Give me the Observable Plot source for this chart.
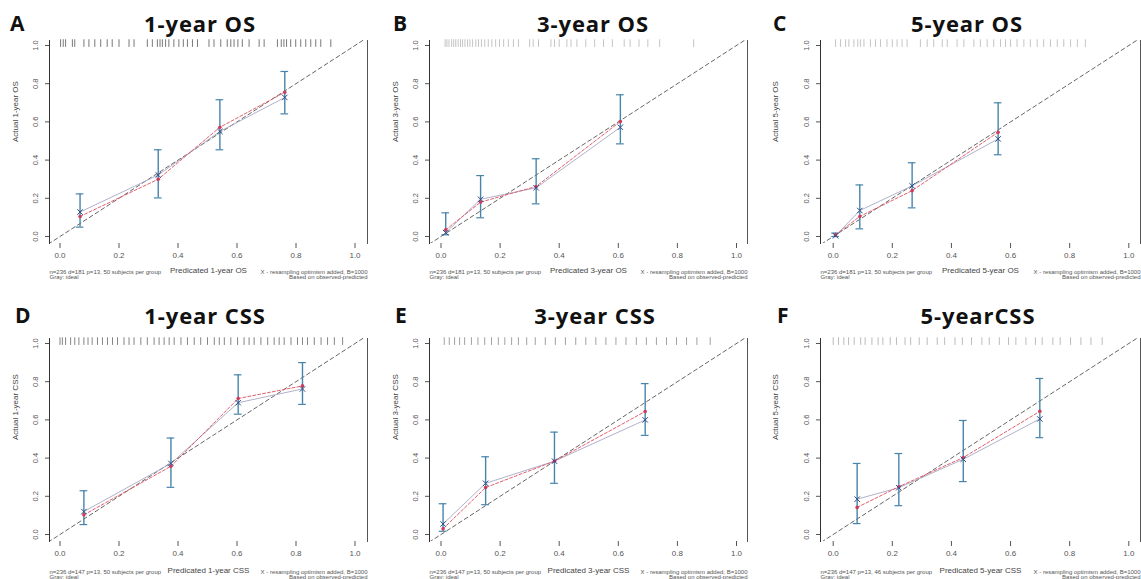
<!DOCTYPE html>
<html><head><meta charset="utf-8">
<script src="https://cdn.jsdelivr.net/npm/d3@7"></script>
<script src="https://cdn.jsdelivr.net/npm/@observablehq/plot@0.6"></script>
<style>
html,body{margin:0;padding:0;background:#fff}
body{width:1141px;height:579px;overflow:hidden;position:relative;font-family:"Open Sans","Noto Sans",sans-serif}
.panel{position:absolute;width:381px;height:290px}
.panel svg{position:absolute;left:0;top:0}
.letter{position:absolute;font-weight:700;font-size:21px;line-height:1;transform:translateY(-50%);color:#111}
.title{position:absolute;font-weight:700;font-size:22px;line-height:1;letter-spacing:0.9px;transform:translate(-50%,-50%);white-space:nowrap;color:#111}
</style></head><body>
<script>
// ---------- data ----------
const panelLetters = ["A", "B", "C", "D", "E", "F"];
const panelTitles = ["1-year OS", "3-year OS", "5-year OS", "1-year CSS", "3-year CSS", "5-yearCSS"];
const yLabels = ["Actual 1-year OS", "Actual 3-year OS", "Actual 5-year OS", "Actual 1-year CSS", "Actual 3-year CSS", "Actual 5-year CSS"];
const xLabels = ["Predicated 1-year OS", "Predicated 3-year OS", "Predicated 5-year OS", "Predicated 1-year CSS", "Predicated 3-year CSS", "Predicated 5-year CSS"];
const noteLeft = ["n=236 d=181 p=13, 50 subjects per group", "n=236 d=181 p=13, 50 subjects per group", "n=236 d=181 p=13, 50 subjects per group",
                  "n=236 d=147 p=13, 50 subjects per group", "n=236 d=147 p=13, 50 subjects per group", "n=236 d=147 p=13, 46 subjects per group"];
const noteLeft2 = "Gray: ideal";
const noteRight = "X - resampling optimism added, B=1000";
const noteRight2 = "Based on observed-predicted";
const tickValues = [0, 0.2, 0.4, 0.6, 0.8, 1.0];
const idealLine = [-0.1, 1.1];

// A: 1-year OS
const predA = [0.068, 0.333, 0.542, 0.762];
const observedA = [0.105, 0.300, 0.572, 0.755];
const correctedA = [0.128, 0.322, 0.550, 0.728];
const lowerA = [0.049, 0.202, 0.454, 0.642];
const upperA = [0.223, 0.454, 0.716, 0.864];
const rugA = [0.002,0.011,0.019,0.042,0.05,0.081,0.098,0.118,0.138,0.16,0.177,0.2,0.234,0.251,0.296,0.313,0.33,0.339,0.347,0.358,0.369,0.386,0.403,0.418,0.432,0.449,0.466,0.505,0.522,0.545,0.567,0.579,0.59,0.603,0.618,0.641,0.675,0.692,0.737,0.75,0.759,0.768,0.782,0.799,0.816,0.833,0.85,0.867,0.884,0.918];

// B: 3-year OS
const predB = [0.016, 0.134, 0.322, 0.607];
const observedB = [0.035, 0.180, 0.262, 0.602];
const correctedB = [0.020, 0.195, 0.255, 0.572];
const lowerB = [0.009, 0.098, 0.171, 0.485];
const upperB = [0.124, 0.319, 0.407, 0.742];
const rugB = [0.014,0.02,0.027,0.036,0.043,0.05,0.058,0.066,0.073,0.081,0.09,0.098,0.107,0.118,0.127,0.137,0.148,0.16,0.172,0.185,0.198,0.212,0.228,0.245,0.262,0.3,0.312,0.33,0.372,0.384,0.4,0.426,0.44,0.46,0.49,0.52,0.55,0.58,0.62,0.64,0.67,0.7,0.74,0.855];

// C: 5-year OS
const predC = [0.008, 0.090, 0.267, 0.558];
const observedC = [0.009, 0.105, 0.240, 0.546];
const correctedC = [0.004, 0.136, 0.265, 0.511];
const lowerC = [0.000, 0.040, 0.150, 0.428];
const upperC = [0.018, 0.270, 0.386, 0.700];
const rugC = [0.008,0.025,0.042,0.053,0.07,0.083,0.092,0.104,0.126,0.143,0.16,0.182,0.2,0.216,0.233,0.25,0.295,0.318,0.34,0.369,0.386,0.419,0.442,0.476,0.498,0.521,0.543,0.566,0.583,0.6,0.622,0.645,0.667,0.69,0.712,0.735,0.758,0.78,0.803,0.826,0.853];

// D: 1-year CSS
const predD = [0.081, 0.376, 0.604, 0.822];
const observedD = [0.103, 0.357, 0.712, 0.778];
const correctedD = [0.120, 0.372, 0.690, 0.762];
const lowerD = [0.052, 0.247, 0.630, 0.681];
const upperD = [0.229, 0.505, 0.836, 0.900];
const rugD = [0.0,0.008,0.019,0.036,0.05,0.064,0.081,0.095,0.109,0.127,0.144,0.161,0.178,0.195,0.217,0.234,0.251,0.274,0.296,0.319,0.336,0.353,0.37,0.387,0.41,0.432,0.455,0.477,0.5,0.523,0.54,0.557,0.579,0.602,0.624,0.641,0.658,0.681,0.704,0.726,0.743,0.76,0.783,0.805,0.822,0.839,0.862,0.885,0.907,0.93,0.958];

// E: 3-year CSS
const predE = [0.007, 0.151, 0.384, 0.691];
const observedE = [0.030, 0.246, 0.384, 0.644];
const correctedE = [0.055, 0.268, 0.384, 0.600];
const lowerE = [0.017, 0.156, 0.268, 0.519];
const upperE = [0.161, 0.407, 0.536, 0.790];
const rugE = [0.011,0.028,0.046,0.063,0.08,0.103,0.125,0.148,0.171,0.194,0.216,0.239,0.262,0.29,0.319,0.353,0.387,0.421,0.456,0.49,0.524,0.558,0.592,0.626,0.661,0.695,0.729,0.763,0.797,0.831,0.866,0.911];

// F: 5-year CSS
const predF = [0.081, 0.222, 0.440, 0.699];
const observedF = [0.142, 0.250, 0.403, 0.645];
const correctedF = [0.185, 0.245, 0.394, 0.605];
const lowerF = [0.057, 0.151, 0.277, 0.507];
const upperF = [0.372, 0.424, 0.597, 0.817];
const rugF = [0.0,0.018,0.036,0.052,0.071,0.093,0.108,0.131,0.152,0.168,0.193,0.214,0.243,0.262,0.291,0.318,0.352,0.377,0.412,0.437,0.468,0.503,0.528,0.562,0.593,0.618,0.652,0.684,0.707,0.743,0.768,0.803,0.838,0.872,0.91];

const series = [
  [predA, observedA, correctedA, lowerA, upperA, rugA],
  [predB, observedB, correctedB, lowerB, upperB, rugB],
  [predC, observedC, correctedC, lowerC, upperC, rugC],
  [predD, observedD, correctedD, lowerD, upperD, rugD],
  [predE, observedE, correctedE, lowerE, upperE, rugE],
  [predF, observedF, correctedF, lowerF, upperF, rugF]
];

// ---------- layout ----------
const colLeft = [0, 380, 760];
const rowTop = [0, 298];
const colGeo = [
  {frameL: 49, frameR: 367, x0: 59.5, x1: 354.5},
  {frameL: 49, frameR: 367, x0: 60.5, x1: 356},
  {frameL: 60, frameR: 380, x0: 72.7, x1: 368.3}
];
const titleX = [200, 213, 207, 205, 215, 218];
const letterX = [10, 13, 13, 15, 15, 17];
const rowTitleY = [23, 17];
const rowNoteDy = [30, 32];
const rugColors = ["#555", "#b5b5b5", "#b5b5b5", "#666", "#888", "#aaa"];
const barColor = "#4784aa";

series.forEach(([pred, obs, cor, lo, hi, rug], i) => {
  const col = i % 3, row = Math.floor(i / 3);
  const g = colGeo[col];
  const W = 381, H = 290, top = 40, bottom = 243;
  const nd = rowNoteDy[row];
  const pts = pred.map((x, k) => ({x, obs: obs[k], cor: cor[k], lo: lo[k], hi: hi[k]}));

  const div = document.createElement("div");
  div.className = "panel";
  div.style.left = colLeft[col] + "px";
  div.style.top = rowTop[row] + "px";

  const svg = Plot.plot({
    width: W, height: H,
    marginLeft: g.frameL, marginRight: W - g.frameR, marginTop: top, marginBottom: H - bottom,
    x: {domain: [0, 1], range: [g.x0, g.x1]},
    y: {domain: [0, 1], range: [236, 45]},
    style: {background: "transparent", fontFamily: "'Liberation Sans', Arial, sans-serif", overflow: "visible"},
    marks: [
      Plot.line(idealLine.map(v => [v, v]), {stroke: "#555", strokeWidth: 0.9, strokeDasharray: "4,3", clip: true}),
      Plot.frame({anchor: "left", stroke: "#333", strokeWidth: 1}),
      Plot.frame({anchor: "right", stroke: "#555", strokeWidth: 1}),
      Plot.ruleX(rug, {x: d => d, y1: 1.03, y2: 0.99, stroke: rugColors[i], strokeWidth: 0.8}),
      Plot.ruleX(pts, {x: "x", y1: "lo", y2: "hi", stroke: barColor, strokeWidth: 1.4}),
      Plot.ruleY(pts, {y: "lo", x1: d => d.x - 0.013, x2: d => d.x + 0.013, stroke: barColor, strokeWidth: 1.2}),
      Plot.ruleY(pts, {y: "hi", x1: d => d.x - 0.013, x2: d => d.x + 0.013, stroke: barColor, strokeWidth: 1.2}),
      Plot.line(pts, {x: "x", y: "cor", stroke: "#a7a9c4", strokeWidth: 0.9}),
      Plot.line(pts, {x: "x", y: "obs", stroke: "#e0606e", strokeWidth: 1, strokeDasharray: "3,2"}),
      Plot.dot(pts, {x: "x", y: "obs", r: 1.8, fill: "#cf3b5c"}),
      Plot.dot(pts, {x: "x", y: "cor", symbol: "times", r: 2.6, stroke: "#2d4b86", strokeWidth: 1}),
      Plot.axisX({ticks: tickValues, tickSize: 5, tickPadding: 4, fontSize: 8, color: "#555", label: null, tickFormat: d => d.toFixed(1)}),
      Plot.axisY({ticks: tickValues, tickSize: 4, tickRotate: -90, tickPadding: 8, fontSize: 7.5, color: "#555", label: null, tickFormat: d => d.toFixed(1)}),
      Plot.text([yLabels[i]], {frameAnchor: "left", dx: 15 - g.frameL, rotate: -90, fontSize: 8, fill: "#444"}),
      Plot.text([xLabels[i]], {frameAnchor: "bottom", dy: nd - 1, fontSize: 8, fill: "#444"}),
      Plot.text([noteLeft[i]], {frameAnchor: "bottom-left", textAnchor: "start", dy: nd, fontSize: 6, fill: "#555"}),
      Plot.text([noteLeft2], {frameAnchor: "bottom-left", textAnchor: "start", dy: nd + 5.5, fontSize: 6, fill: "#555"}),
      Plot.text([noteRight], {frameAnchor: "bottom-right", textAnchor: "end", dy: nd, fontSize: 6, fill: "#555"}),
      Plot.text([noteRight2], {frameAnchor: "bottom-right", textAnchor: "end", dy: nd + 5.5, fontSize: 6, fill: "#555"})
    ]
  });
  div.appendChild(svg);

  const letter = document.createElement("div");
  letter.className = "letter";
  letter.textContent = panelLetters[i];
  letter.style.left = letterX[i] + "px";
  letter.style.top = rowTitleY[row] + "px";
  div.appendChild(letter);

  const title = document.createElement("div");
  title.className = "title";
  title.textContent = panelTitles[i];
  title.style.left = titleX[i] + "px";
  title.style.top = rowTitleY[row] + "px";
  div.appendChild(title);

  document.body.appendChild(div);
});
</script>
</body></html>
